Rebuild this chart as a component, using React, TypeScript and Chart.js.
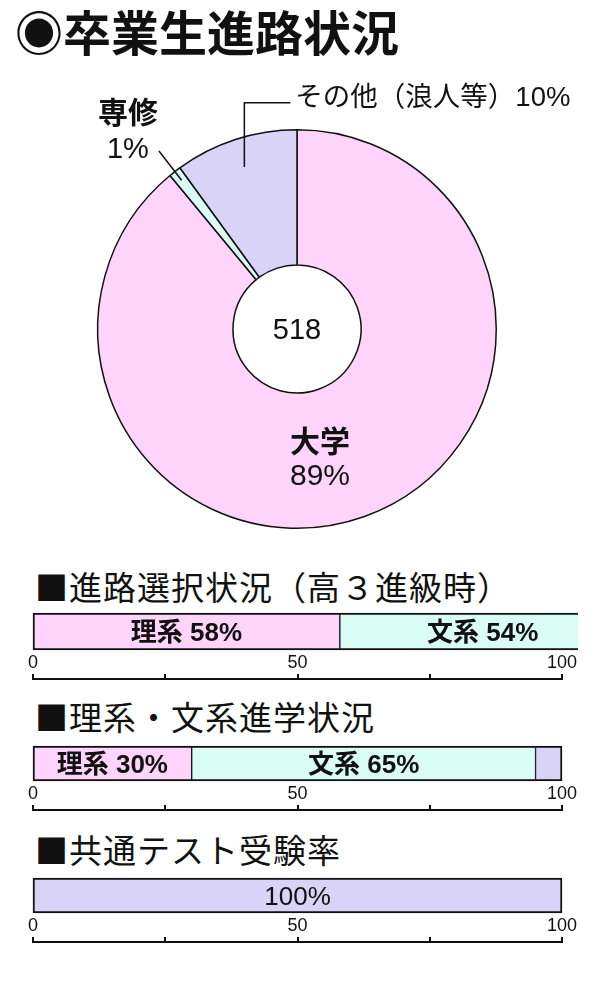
import React, { useEffect, useRef } from "react";
import { Chart, registerables } from "chart.js";

Chart.register(...registerables);

const FONT = '"Liberation Sans", "Noto Sans CJK JP", sans-serif';
const JP = '"Noto Sans CJK JP", sans-serif';
const INK = "#111";
const PINK = "#ffd4fb";
const MINT = "#d9fcf5";
const LILAC = "#d8d3f7";

// 卒業生進路状況
const pathLabels = ["大学", "専修", "その他（浪人等）"];
const pathValues = [89, 1, 10];
const pathColors = [PINK, MINT, LILAC];
const graduates = 518;

// 進路選択状況（高３進級時）
const choiceLabels = ["理系", "文系"];
const choiceValues = [58, 54];
const choiceShown = [true, true];

// 理系・文系進学状況
const entryLabels = ["理系", "文系", "その他"];
const entryValues = [30, 65, 5];
const entryShown = [true, true, false];

// 共通テスト受験率
const testLabels = ["受験"];
const testValues = [100];
const testShown = [true];

const axisMin = 0;
const axisMax = 100;
const labelStep = 50;
const tickStep = 25;

function text(c: CanvasRenderingContext2D, s: string, x: number, cy: number, size: number, bold: boolean, align: CanvasTextAlign = "center") {
  c.font = `${bold ? "bold " : ""}${size}px ${FONT}`;
  c.textAlign = align;
  c.textBaseline = "alphabetic";
  c.fillText(s, x, cy + size * 0.37);
}

function PathDoughnut() {
  const ref = useRef<HTMLCanvasElement | null>(null);

  useEffect(() => {
    const ctx = ref.current?.getContext("2d");
    if (!ctx) return;
    const labels = {
      id: "pathLabels",
      afterDatasetsDraw(chart: Chart) {
        const arcs = chart.getDatasetMeta(0).data as any[];
        const c = chart.ctx;
        const { x: cx, y: cy, outerRadius: R } = arcs[0].getProps(["x", "y", "outerRadius"], true);
        const mid = (i: number) => {
          const a = arcs[i].getProps(["startAngle", "endAngle"], true);
          return (a.startAngle + a.endAngle) / 2;
        };
        const at = (ang: number, r: number) => [cx + r * Math.cos(ang), cy + r * Math.sin(ang)];
        c.save();
        c.fillStyle = INK;
        c.strokeStyle = INK;
        c.lineWidth = 1.5;

        text(c, String(graduates), cx, cy - 1, 29, false);

        // 大学
        text(c, pathLabels[0], cx + 23, cy + 0.56 * R, 30, true);
        text(c, `${pathValues[0]}%`, cx + 23, cy + 0.725 * R, 30, false);

        // 専修
        const a1 = mid(1);
        const [x0, y0] = at(a1, R - 11);
        const [x1, y1] = at(a1, R + 26);
        c.beginPath();
        c.moveTo(x0, y0);
        c.lineTo(x1, y1);
        c.stroke();
        text(c, pathLabels[1], x1 - 31, y1 - 39, 30, true);
        text(c, `${pathValues[1]}%`, x1 - 31, y1 - 4, 29, false);

        // その他
        const [ax, ay] = at(mid(2), 0.855 * R);
        const elbowY = cy - R - 27;
        c.beginPath();
        c.moveTo(ax, ay);
        c.lineTo(ax, elbowY);
        c.lineTo(ax + 46, elbowY);
        c.stroke();
        text(c, `${pathLabels[2]}${pathValues[2]}%`, ax + 51, elbowY - 7, 27.5, false, "left");
        c.restore();
      },
    };

    const chart = new Chart(ctx, {
      type: "doughnut",
      data: {
        labels: pathLabels,
        datasets: [{ data: pathValues, backgroundColor: pathColors, borderColor: INK, borderWidth: 1.5 }],
      },
      options: {
        animation: false,
        responsive: true,
        maintainAspectRatio: false,
        cutout: 64,
        events: [],
        layout: { padding: { left: 97, right: 103, top: 129, bottom: 31 } },
        plugins: { legend: { display: false }, tooltip: { enabled: false } },
      },
      plugins: [labels],
    });
    return () => chart.destroy();
  }, []);

  return (
    <div style={{ position: "absolute", left: 0, top: 0, width: 600, height: 560 }}>
      <canvas ref={ref} />
    </div>
  );
}

type BarProps = {
  names: string[];
  values: number[];
  shown: boolean[];
  colors: string[];
  withName: boolean;
  top: number;
  barHeight: number;
};

function StackBar({ names, values, shown, colors, withName, top, barHeight }: BarProps) {
  const ref = useRef<HTMLCanvasElement | null>(null);

  useEffect(() => {
    const ctx = ref.current?.getContext("2d");
    if (!ctx) return;
    const last = values.length - 1;
    const segLabels = {
      id: "segLabels",
      afterDatasetsDraw(chart: Chart) {
        const c = chart.ctx;
        c.save();
        c.fillStyle = INK;
        chart.data.datasets.forEach((_, i) => {
          if (!shown[i]) return;
          const bar = chart.getDatasetMeta(i).data[0] as any;
          const { x, y, base } = bar.getProps(["x", "y", "base"], true);
          const s = withName ? `${names[i]} ${values[i]}%` : `${values[i]}%`;
          text(c, s, (x + base) / 2, y, 26, withName);
        });
        c.restore();
      },
    };

    const chart = new Chart(ctx, {
      type: "bar",
      data: {
        labels: [""],
        datasets: values.map((v, i) => ({
          label: names[i],
          data: [v],
          backgroundColor: colors[i],
          borderColor: INK,
          borderWidth: { top: 2, bottom: 2, left: i === 0 ? 2 : 1, right: i === last ? 2 : 1 },
          borderSkipped: false,
          barPercentage: 1,
          categoryPercentage: 1,
          clip: false,
        })),
      },
      options: {
        animation: false,
        responsive: true,
        maintainAspectRatio: false,
        indexAxis: "y",
        events: [],
        layout: { padding: { left: 25, right: 16, top: 4, bottom: 3 } },
        plugins: { legend: { display: false }, tooltip: { enabled: false } },
        scales: {
          y: { stacked: true, display: false },
          x: {
            type: "linear",
            stacked: true,
            position: "bottom",
            weight: 0,
            min: axisMin,
            max: axisMax,
            grid: { display: false, drawTicks: true, tickLength: -2 },
            border: { display: false },
            ticks: {
              stepSize: labelStep,
              padding: 0,
              maxRotation: 0,
              minRotation: 0,
              color: INK,
              font: { family: FONT, size: 18, lineHeight: 1.72 },
            },
          },
          x2: {
            type: "linear",
            axis: "x",
            position: "bottom",
            weight: 1,
            min: axisMin,
            max: axisMax,
            grid: { drawOnChartArea: false, drawTicks: true, tickLength: -5, color: INK, lineWidth: 2 },
            border: { display: true, color: INK, width: 2 },
            ticks: { display: false, stepSize: tickStep },
          },
        },
      } as any,
      plugins: [segLabels],
    });
    return () => chart.destroy();
  }, [names, values, shown, colors, withName]);

  const height = Math.round(4 + barHeight + 29 + 3);
  return (
    <div style={{ position: "absolute", left: 8, top: top - 4, width: 570, height }}>
      <canvas ref={ref} />
    </div>
  );
}

const heading: React.CSSProperties = {
  position: "absolute",
  left: 35,
  fontFamily: JP,
  fontSize: 33,
  letterSpacing: 1,
  lineHeight: "32px",
  whiteSpace: "nowrap",
  color: INK,
};

export default function App() {
  return (
    <div style={{ position: "absolute", left: 0, top: 0, width: 600, height: 990, background: "#fff" }}>
      <PathDoughnut />
      <div
        style={{
          position: "absolute",
          left: 15,
          top: 6,
          fontFamily: JP,
          fontSize: 48,
          fontWeight: 700,
          lineHeight: "48px",
          whiteSpace: "nowrap",
          color: INK,
        }}
      >
        ◉卒業生進路状況
      </div>

      <div style={{ ...heading, top: 570 }}>■進路選択状況（高３進級時）</div>
      <StackBar names={choiceLabels} values={choiceValues} shown={choiceShown} colors={[PINK, MINT]} withName top={613} barHeight={37} />

      <div style={{ ...heading, top: 700 }}>■理系・文系進学状況</div>
      <StackBar names={entryLabels} values={entryValues} shown={entryShown} colors={[PINK, MINT, LILAC]} withName top={746} barHeight={35} />

      <div style={{ ...heading, top: 833 }}>■共通テスト受験率</div>
      <StackBar names={testLabels} values={testValues} shown={testShown} colors={[LILAC]} withName={false} top={878} barHeight={35} />
    </div>
  );
}
